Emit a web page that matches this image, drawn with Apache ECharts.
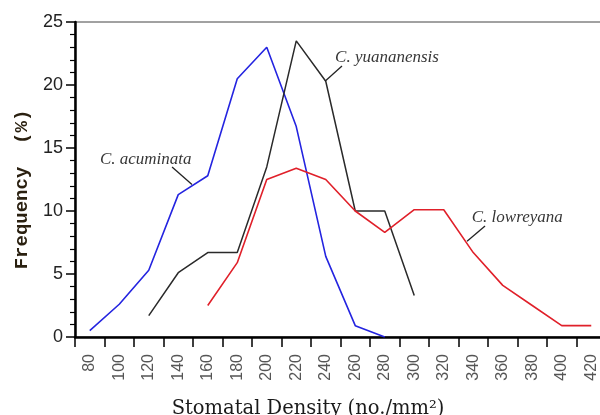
<!DOCTYPE html>
<html>
<head>
<meta charset="utf-8">
<script src="https://cdn.jsdelivr.net/npm/echarts@6/dist/echarts.min.js"></script>
<style>
html,body{margin:0;padding:0;background:#fff;}
#chart{width:600px;height:415px;}
</style>
</head>
<body>
<div id="chart"></div>
<script>
// Tick labels (category axis) for stomatal density
var densityLabels = ['80','100','120','140','160','180','200','220','240','260','280','300','320','340','360','380','400','420'];

// C. acuminata
var acuminataX = [80, 100, 120, 140, 160, 180, 200, 220, 240, 260, 280];
var acuminataY = [0.5, 2.6, 5.3, 11.3, 12.8, 20.5, 23.0, 16.7, 6.4, 0.9, 0.0];

// C. yuananensis
var yuananensisX = [120, 140, 160, 180, 200, 220, 240, 260, 280, 300];
var yuananensisY = [1.7, 5.1, 6.7, 6.7, 13.5, 23.5, 20.3, 10.0, 10.0, 3.3];

// C. lowreyana
var lowreyanaX = [160, 180, 200, 220, 240, 260, 280, 300, 320, 340, 360, 380, 400, 420];
var lowreyanaY = [2.5, 5.9, 12.5, 13.4, 12.5, 10.0, 8.3, 10.1, 10.1, 6.7, 4.1, 2.5, 0.9, 0.9];

// Species labels
var speciesNames = ['C. acuminata', 'C. yuananensis', 'C. lowreyana'];

function zip(xs, ys){ return xs.map(function(x,i){ return [x, ys[i]]; }); }

var chart = echarts.init(document.getElementById('chart'), null, {renderer:'canvas'});

var serifItalic = {fontFamily:'Liberation Serif', fontStyle:'italic', fontSize:17, color:'#000'};

var option = {
  animation:false,
  backgroundColor:'#ffffff',
  grid:{left:75, width:531, top:22, bottom:78, containLabel:false, outerBoundsMode:'none', show:true, borderColor:'#444', borderWidth:1},
  xAxis:[{
    type:'category',
    data:densityLabels,
    boundaryGap:true,
    name:'Stomatal Density (no./mm²)',
    nameLocation:'middle',
    nameGap:62,
    nameTextStyle:{fontFamily:'DejaVu Serif', fontSize:19.5, color:'#1a1a1a', padding:[0,65,0,0]},
    axisLine:{show:true, lineStyle:{color:'#000', width:2.5}},
    axisTick:{show:true, inside:false, length:10, lineStyle:{color:'#000', width:1.5}},
    axisLabel:{rotate:90, margin:17, fontFamily:'Liberation Sans', fontSize:16, color:'#555', interval:0},
    splitLine:{show:false}
  },{
    type:'value',
    min:70, max:430,
    show:false,
    splitLine:{show:false}
  }],
  yAxis:{
    type:'value',
    min:0, max:25, interval:5,
    name:'Frequency  (%)',
    nameLocation:'middle',
    nameGap:41,
    nameRotate:90,
    nameTextStyle:{fontFamily:'Liberation Mono', fontWeight:'bold', fontSize:19, color:'#2a2010', padding:[0,0,0,-20]},
    axisLine:{show:true, lineStyle:{color:'#000', width:2.5}},
    axisTick:{show:true, inside:false, length:9, lineStyle:{color:'#000', width:1.5}},
    minorTick:{show:true, splitNumber:5, length:5, lineStyle:{color:'#000', width:1.2}},
    axisLabel:{margin:12, fontFamily:'Liberation Sans', fontSize:18, color:'#222'},
    splitLine:{show:false}
  },
  series:[
    {type:'line', name:speciesNames[0], xAxisIndex:1, data:zip(acuminataX, acuminataY), showSymbol:false, symbol:'none',
     lineStyle:{color:'#2424e0', width:1.6}},
    {type:'line', name:speciesNames[1], xAxisIndex:1, data:zip(yuananensisX, yuananensisY), showSymbol:false, symbol:'none',
     lineStyle:{color:'#2a2a2a', width:1.5}},
    {type:'line', name:speciesNames[2], xAxisIndex:1, data:zip(lowreyanaX, lowreyanaY), showSymbol:false, symbol:'none',
     lineStyle:{color:'#e0202a', width:1.6}},
    // leader lines
    {type:'line', xAxisIndex:1, data:[[135.8,13.5],[149.3,12.1]], symbol:'none', lineStyle:{color:'#222', width:1.3}, silent:true},
    {type:'line', xAxisIndex:1, data:[[251,21.5],[239.5,20.3]], symbol:'none', lineStyle:{color:'#222', width:1.3}, silent:true},
    {type:'line', xAxisIndex:1, data:[[348,8.8],[335.8,7.6]], symbol:'none', lineStyle:{color:'#222', width:1.3}, silent:true},
    // species labels
    {type:'scatter', xAxisIndex:1, symbolSize:0, silent:true,
     data:[[86.9,14.1,speciesNames[0]],[246.3,22.2,speciesNames[1]],[339,9.5,speciesNames[2]]],
     label:Object.assign({show:true, position:'right', distance:0, formatter:function(p){return p.data[2];}}, serifItalic)}
  ]
};
chart.setOption(option);
</script>
</body>
</html>
